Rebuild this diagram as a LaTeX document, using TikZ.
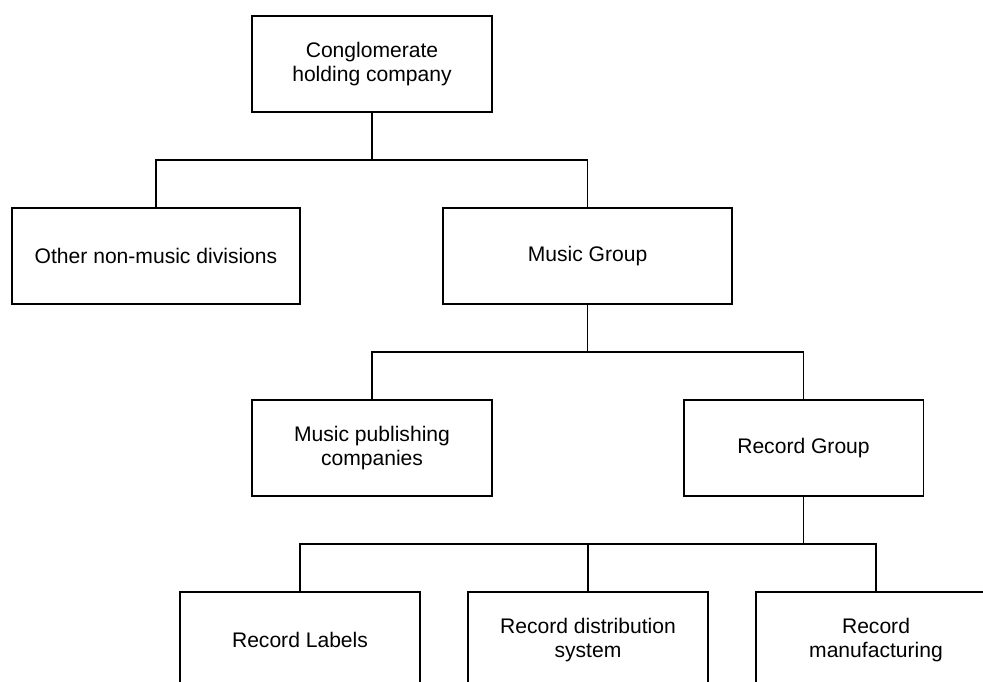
\documentclass[tikz,border=0pt]{standalone}
\usepackage{fontspec}
\setmainfont{Liberation Sans}
\usepackage{tikz}
\usetikzlibrary{positioning,calc}

\tikzset{
  unit/.style={draw, line width=1.1pt, minimum width=4.8cm, minimum height=1.92cm,
    align=center, inner sep=0pt, font=\fontsize{12}{13.8}\selectfont},
  wideunit/.style={unit, minimum width=5.77cm},
  link/.style={line width=1.1pt}
}

\begin{document}
\begin{tikzpicture}[x=0.02cm,y=-0.02cm]
  \clip (0,0) rectangle (983,682);
  % top
  \node[unit] (holding) at (372,64) {Conglomerate\\holding company};
  % divisions
  \node[wideunit] (other) at (156,256) {Other non-music divisions};
  \node[wideunit] (music) at (587.5,256) {Music Group};
  % music group
  \node[unit] (publishing) at (372,448) {Music publishing\\companies};
  \node[unit] (record) at (803.5,448) {Record Group};
  % record group
  \node[unit] (labels) at (300,640) {Record Labels};
  \node[unit] (distribution) at (588,640) {Record distribution\\system};
  \node[unit] (manufacturing) at (876,640) {Record\\manufacturing};

  \coordinate (fork1) at (372,160);
  \coordinate (fork2) at (587.5,352);
  \coordinate (fork3) at (803.5,544);
  \draw[link] (holding.south) -- (fork1);
  \draw[link] (other.north) |- (fork1) -| (music.north);
  \draw[link] (music.south) -- (fork2);
  \draw[link] (publishing.north) |- (fork2) -| (record.north);
  \draw[link] (record.south) -- (fork3);
  \draw[link] (labels.north) |- (fork3) -| (manufacturing.north);
  \draw[link] (distribution.north) -- (distribution.north |- fork3);
\end{tikzpicture}
\end{document}
